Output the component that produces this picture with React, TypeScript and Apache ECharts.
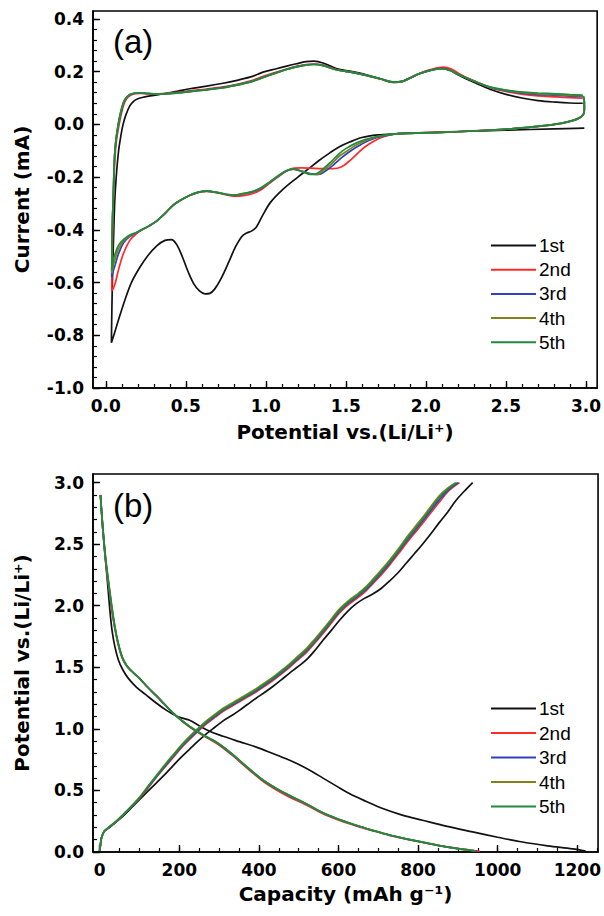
import React, { useEffect, useRef } from 'react';
import * as echarts from 'echarts';

// ---------- tick labels ----------
const cvPotentialTicks = [0, 0.5, 1.0, 1.5, 2.0, 2.5, 3.0];
const cvCurrentTicks = [-1.0, -0.8, -0.6, -0.4, -0.2, 0.0, 0.2, 0.4];
const capacityTicks = [0, 200, 400, 600, 800, 1000, 1200];
const potentialTicks = [0, 0.5, 1.0, 1.5, 2.0, 2.5, 3.0];

const cycleNames = ['1st', '2nd', '3rd', '4th', '5th'];
const cycleColors = ['#111111', '#ff2a2a', '#3040c0', '#80801e', '#1f8a3c'];

// ---------- (a) CV curves: [potential V, current mA] ----------
const cv1 = [
  [2.99, -0.014], [2.8, -0.017], [2.5, -0.022], [2.2, -0.027], [2.0, -0.031], [1.8, -0.036], [1.7, -0.04], [1.6, -0.05],
  [1.52, -0.068], [1.46, -0.085], [1.4, -0.108], [1.33, -0.138], [1.27, -0.167], [1.2, -0.2], [1.1, -0.25], [1.03, -0.295],
  [0.98, -0.345], [0.94, -0.39], [0.91, -0.405], [0.88, -0.412], [0.85, -0.425], [0.81, -0.465], [0.77, -0.52], [0.72, -0.585],
  [0.68, -0.625], [0.65, -0.641], [0.62, -0.643], [0.585, -0.632], [0.55, -0.605], [0.515, -0.56], [0.48, -0.505], [0.445, -0.458],
  [0.41, -0.437], [0.37, -0.44], [0.32, -0.46], [0.26, -0.5], [0.21, -0.545], [0.16, -0.6], [0.12, -0.665], [0.08, -0.74],
  [0.05, -0.8], [0.035, -0.828], [0.038, -0.7], [0.043, -0.55], [0.05, -0.4], [0.056, -0.29], [0.065, -0.2], [0.08, -0.1],
  [0.095, -0.04], [0.108, 0.0], [0.125, 0.035], [0.15, 0.07], [0.175, 0.088], [0.2, 0.097], [0.233, 0.103], [0.3, 0.11],
  [0.358, 0.116], [0.45, 0.126], [0.525, 0.135], [0.63, 0.145], [0.733, 0.156], [0.82, 0.167], [0.9, 0.179], [0.95, 0.19],
  [0.982, 0.198], [1.066, 0.211], [1.13, 0.221], [1.191, 0.23], [1.25, 0.238], [1.3, 0.24], [1.357, 0.233], [1.44, 0.212],
  [1.54, 0.2], [1.628, 0.188], [1.72, 0.172], [1.8, 0.159], [1.85, 0.162], [1.9, 0.175], [1.961, 0.192], [2.03, 0.206],
  [2.1, 0.213], [2.15, 0.205], [2.2, 0.188], [2.253, 0.172], [2.32, 0.154], [2.4, 0.133], [2.5, 0.114], [2.607, 0.099],
  [2.7, 0.09], [2.815, 0.084], [2.9, 0.081], [2.98, 0.08],
];
const cv2 = [
  [2.985, 0.081], [2.99, 0.07], [2.99, 0.052], [2.985, 0.038], [2.96, 0.024], [2.92, 0.014], [2.85, 0.004], [2.71, -0.008],
  [2.55, -0.016], [2.4, -0.022], [2.2, -0.027], [2.05, -0.03], [1.9, -0.033], [1.8, -0.037], [1.74, -0.046], [1.68, -0.062],
  [1.62, -0.085], [1.57, -0.112], [1.52, -0.14], [1.47, -0.162], [1.42, -0.168], [1.35, -0.168], [1.28, -0.166], [1.22, -0.165],
  [1.15, -0.17], [1.09, -0.193], [1.02, -0.225], [0.97, -0.248], [0.92, -0.262], [0.86, -0.27], [0.8, -0.272], [0.75, -0.267],
  [0.7, -0.26], [0.63, -0.254], [0.58, -0.258], [0.525, -0.27], [0.47, -0.286], [0.42, -0.306], [0.37, -0.338], [0.317, -0.367],
  [0.27, -0.386], [0.233, -0.398], [0.19, -0.415], [0.15, -0.44], [0.11, -0.49], [0.08, -0.55], [0.06, -0.6], [0.045, -0.625],
  [0.037, -0.63], [0.04, -0.5], [0.043, -0.4], [0.047, -0.3], [0.052, -0.2], [0.058, -0.12], [0.067, -0.06], [0.082, -0.005],
  [0.097, 0.04], [0.113, 0.075], [0.13, 0.097], [0.155, 0.11], [0.185, 0.116], [0.22, 0.117], [0.26, 0.116], [0.3, 0.116],
  [0.358, 0.117], [0.45, 0.121], [0.525, 0.127], [0.63, 0.134], [0.733, 0.142], [0.82, 0.152], [0.9, 0.164], [0.98, 0.181],
  [1.066, 0.198], [1.13, 0.21], [1.191, 0.22], [1.25, 0.227], [1.3, 0.229], [1.357, 0.225], [1.44, 0.208], [1.54, 0.197],
  [1.628, 0.186], [1.72, 0.171], [1.8, 0.159], [1.85, 0.162], [1.9, 0.176], [1.961, 0.194], [2.03, 0.208], [2.11, 0.217],
  [2.16, 0.21], [2.2, 0.195], [2.253, 0.178], [2.32, 0.16], [2.4, 0.14], [2.5, 0.125], [2.607, 0.114], [2.7, 0.108],
  [2.815, 0.104], [2.9, 0.101], [2.98, 0.099],
];
const cv3 = [
  [2.985, 0.099], [2.99, 0.082], [2.99, 0.057], [2.985, 0.039], [2.96, 0.025], [2.92, 0.015], [2.85, 0.005], [2.71, -0.007],
  [2.55, -0.016], [2.4, -0.022], [2.2, -0.028], [2.05, -0.031], [1.9, -0.034], [1.8, -0.037], [1.72, -0.046], [1.64, -0.062],
  [1.57, -0.085], [1.52, -0.105], [1.47, -0.128], [1.42, -0.155], [1.37, -0.178], [1.33, -0.19], [1.29, -0.188], [1.23, -0.178],
  [1.17, -0.17], [1.12, -0.18], [1.07, -0.2], [1.02, -0.222], [0.97, -0.243], [0.92, -0.256], [0.86, -0.264], [0.8, -0.269],
  [0.75, -0.266], [0.7, -0.259], [0.63, -0.253], [0.58, -0.257], [0.525, -0.269], [0.47, -0.287], [0.42, -0.307], [0.37, -0.338],
  [0.317, -0.367], [0.27, -0.385], [0.233, -0.397], [0.19, -0.412], [0.15, -0.425], [0.11, -0.45], [0.08, -0.49], [0.06, -0.53],
  [0.045, -0.56], [0.037, -0.58], [0.039, -0.47], [0.042, -0.36], [0.046, -0.29], [0.05, -0.2], [0.055, -0.12], [0.064, -0.06],
  [0.079, 0.0], [0.094, 0.044], [0.11, 0.079], [0.127, 0.099], [0.152, 0.112], [0.182, 0.118], [0.215, 0.119], [0.256, 0.117],
  [0.3, 0.116], [0.358, 0.116], [0.45, 0.12], [0.525, 0.125], [0.63, 0.132], [0.733, 0.14], [0.82, 0.15], [0.9, 0.161],
  [0.98, 0.178], [1.066, 0.196], [1.13, 0.209], [1.191, 0.219], [1.25, 0.226], [1.3, 0.228], [1.357, 0.224], [1.44, 0.207],
  [1.54, 0.197], [1.628, 0.186], [1.72, 0.172], [1.8, 0.16], [1.85, 0.163], [1.9, 0.176], [1.961, 0.193], [2.03, 0.206],
  [2.1, 0.212], [2.15, 0.206], [2.2, 0.19], [2.253, 0.176], [2.32, 0.159], [2.4, 0.14], [2.5, 0.127], [2.607, 0.117],
  [2.7, 0.113], [2.815, 0.11], [2.9, 0.107], [2.98, 0.105],
];
const cv4 = [
  [2.985, 0.105], [2.99, 0.086], [2.99, 0.058], [2.985, 0.04], [2.96, 0.025], [2.92, 0.015], [2.85, 0.005], [2.71, -0.007],
  [2.55, -0.016], [2.4, -0.022], [2.2, -0.028], [2.05, -0.031], [1.9, -0.034], [1.8, -0.037], [1.71, -0.045], [1.63, -0.06],
  [1.56, -0.08], [1.51, -0.1], [1.46, -0.12], [1.41, -0.15], [1.36, -0.175], [1.32, -0.19], [1.28, -0.189], [1.23, -0.179],
  [1.17, -0.17], [1.12, -0.179], [1.07, -0.199], [1.02, -0.221], [0.97, -0.241], [0.92, -0.255], [0.86, -0.263], [0.8, -0.268],
  [0.75, -0.265], [0.7, -0.259], [0.63, -0.253], [0.58, -0.257], [0.525, -0.269], [0.47, -0.287], [0.42, -0.307], [0.37, -0.338],
  [0.317, -0.367], [0.27, -0.385], [0.233, -0.397], [0.19, -0.411], [0.15, -0.422], [0.11, -0.443], [0.08, -0.472], [0.06, -0.508],
  [0.045, -0.54], [0.037, -0.565], [0.039, -0.46], [0.042, -0.355], [0.046, -0.29], [0.05, -0.2], [0.055, -0.12], [0.063, -0.06],
  [0.078, 0.0], [0.093, 0.045], [0.109, 0.08], [0.126, 0.1], [0.151, 0.113], [0.181, 0.119], [0.213, 0.12], [0.255, 0.118],
  [0.3, 0.116], [0.358, 0.116], [0.45, 0.119], [0.525, 0.124], [0.63, 0.131], [0.733, 0.139], [0.82, 0.149], [0.9, 0.16],
  [0.98, 0.177], [1.066, 0.195], [1.13, 0.208], [1.191, 0.218], [1.25, 0.225], [1.3, 0.227], [1.357, 0.223], [1.44, 0.207],
  [1.54, 0.197], [1.628, 0.186], [1.72, 0.172], [1.8, 0.16], [1.85, 0.163], [1.9, 0.176], [1.961, 0.193], [2.03, 0.205],
  [2.1, 0.211], [2.15, 0.205], [2.2, 0.19], [2.253, 0.176], [2.32, 0.16], [2.4, 0.141], [2.5, 0.129], [2.607, 0.12],
  [2.7, 0.116], [2.815, 0.113], [2.9, 0.11], [2.98, 0.108],
];
const cv5 = [
  [2.985, 0.108], [2.99, 0.088], [2.99, 0.06], [2.985, 0.04], [2.96, 0.025], [2.92, 0.015], [2.85, 0.005], [2.71, -0.007],
  [2.55, -0.016], [2.4, -0.022], [2.2, -0.028], [2.05, -0.031], [1.9, -0.034], [1.8, -0.037], [1.7, -0.045], [1.62, -0.058],
  [1.55, -0.075], [1.5, -0.092], [1.46, -0.11], [1.41, -0.14], [1.36, -0.168], [1.32, -0.186], [1.28, -0.19], [1.23, -0.18],
  [1.17, -0.17], [1.12, -0.178], [1.07, -0.198], [1.02, -0.22], [0.97, -0.24], [0.92, -0.254], [0.86, -0.262], [0.8, -0.268],
  [0.75, -0.265], [0.7, -0.259], [0.63, -0.253], [0.58, -0.257], [0.525, -0.269], [0.47, -0.287], [0.42, -0.307], [0.37, -0.338],
  [0.317, -0.367], [0.27, -0.385], [0.233, -0.397], [0.19, -0.41], [0.15, -0.42], [0.11, -0.437], [0.08, -0.458], [0.06, -0.488],
  [0.045, -0.52], [0.037, -0.553], [0.039, -0.45], [0.042, -0.35], [0.046, -0.29], [0.05, -0.2], [0.055, -0.12], [0.063, -0.06],
  [0.077, 0.0], [0.092, 0.045], [0.108, 0.08], [0.125, 0.1], [0.15, 0.113], [0.18, 0.119], [0.212, 0.12], [0.254, 0.118],
  [0.3, 0.116], [0.358, 0.116], [0.45, 0.119], [0.525, 0.124], [0.63, 0.131], [0.733, 0.139], [0.82, 0.149], [0.9, 0.16],
  [0.98, 0.177], [1.066, 0.195], [1.13, 0.208], [1.191, 0.218], [1.25, 0.225], [1.3, 0.227], [1.357, 0.223], [1.44, 0.207],
  [1.54, 0.197], [1.628, 0.186], [1.72, 0.172], [1.8, 0.16], [1.85, 0.163], [1.9, 0.176], [1.961, 0.193], [2.03, 0.205],
  [2.1, 0.21], [2.15, 0.205], [2.2, 0.19], [2.253, 0.176], [2.32, 0.16], [2.4, 0.142], [2.5, 0.13], [2.607, 0.122],
  [2.7, 0.119], [2.815, 0.116], [2.9, 0.113], [2.98, 0.111],
];

// ---------- (b) discharge / charge: [capacity mAh/g, potential V] ----------
const discharge1 = [
  [2, 2.9], [4, 2.8], [8, 2.62], [13, 2.43], [18, 2.25], [22, 2.1], [26, 1.95], [31, 1.8], [38, 1.67], [47, 1.56], [58, 1.48],
  [72, 1.41], [92, 1.34], [115, 1.28], [142, 1.21], [168, 1.15], [192, 1.105], [210, 1.085], [226, 1.07], [250, 1.025],
  [276, 0.98], [310, 0.94], [351, 0.896], [395, 0.85], [435, 0.8], [470, 0.755], [494, 0.72], [530, 0.66], [561, 0.6],
  [595, 0.535], [627, 0.475], [670, 0.41], [711, 0.353], [760, 0.3], [811, 0.258], [870, 0.21], [937, 0.163], [1000, 0.12],
  [1062, 0.081], [1125, 0.05], [1188, 0.025], [1221, 0.008],
];
const discharge2 = [
  [2, 2.9], [5, 2.74], [10, 2.53], [16, 2.33], [25, 2.1], [33, 1.91], [42, 1.75], [50, 1.64], [58, 1.565], [68, 1.51],
  [80, 1.47], [100, 1.41], [120, 1.34], [142, 1.27], [163, 1.2], [184, 1.13], [205, 1.07], [226, 1.015], [250, 0.965],
  [268, 0.93], [290, 0.89], [310, 0.845], [335, 0.78], [360, 0.71], [385, 0.64], [410, 0.575], [443, 0.505], [477, 0.445],
  [520, 0.38], [561, 0.31], [603, 0.256], [644, 0.212], [686, 0.172], [728, 0.135], [770, 0.104], [811, 0.078], [853, 0.052],
  [895, 0.031], [930, 0.016], [955, 0.006],
];
const discharge3 = [
  [2, 2.9], [5, 2.75], [10, 2.54], [16, 2.34], [25, 2.11], [33, 1.92], [42, 1.755], [50, 1.645], [58, 1.568], [68, 1.51],
  [80, 1.47], [100, 1.41], [120, 1.34], [142, 1.27], [163, 1.2], [184, 1.13], [205, 1.07], [226, 1.018], [250, 0.968],
  [268, 0.934], [290, 0.895], [310, 0.851], [335, 0.786], [360, 0.716], [385, 0.647], [410, 0.583], [443, 0.515], [477, 0.455],
  [520, 0.388], [561, 0.316], [603, 0.262], [644, 0.216], [686, 0.175], [728, 0.137], [770, 0.106], [811, 0.079], [853, 0.052],
  [895, 0.03], [925, 0.016], [948, 0.007],
];
const discharge4 = [
  [2, 2.9], [5, 2.75], [10, 2.55], [16, 2.35], [25, 2.12], [33, 1.93], [42, 1.76], [50, 1.65], [58, 1.57], [68, 1.51],
  [80, 1.47], [100, 1.41], [120, 1.34], [142, 1.27], [163, 1.2], [184, 1.13], [205, 1.07], [226, 1.02], [250, 0.97],
  [268, 0.936], [290, 0.898], [310, 0.854], [335, 0.789], [360, 0.72], [385, 0.65], [410, 0.585], [443, 0.517], [477, 0.458],
  [520, 0.39], [561, 0.318], [603, 0.263], [644, 0.217], [686, 0.176], [728, 0.138], [770, 0.107], [811, 0.08], [853, 0.052],
  [895, 0.03], [925, 0.017], [945, 0.008],
];
const discharge5 = [
  [2, 2.9], [5, 2.76], [10, 2.56], [16, 2.36], [25, 2.13], [33, 1.94], [42, 1.765], [50, 1.655], [58, 1.575], [68, 1.515],
  [80, 1.47], [100, 1.41], [120, 1.34], [142, 1.27], [163, 1.2], [184, 1.13], [205, 1.07], [226, 1.02], [250, 0.97],
  [268, 0.937], [290, 0.9], [310, 0.855], [335, 0.79], [360, 0.72], [385, 0.65], [410, 0.585], [443, 0.518], [477, 0.46],
  [520, 0.39], [561, 0.318], [603, 0.263], [644, 0.217], [686, 0.176], [728, 0.138], [770, 0.107], [811, 0.08], [853, 0.052],
  [895, 0.03], [925, 0.017], [945, 0.008],
];
const charge1 = [
  [0, 0.01], [2, 0.06], [5, 0.12], [12, 0.17], [25, 0.2], [40, 0.24], [58, 0.29], [80, 0.36], [100, 0.425], [120, 0.49],
  [142, 0.56], [167, 0.64], [184, 0.7], [205, 0.77], [226, 0.835], [247, 0.9], [268, 0.96], [290, 1.015], [310, 1.065],
  [335, 1.115], [351, 1.15], [372, 1.2], [393, 1.249], [414, 1.295], [435, 1.344], [456, 1.398], [477, 1.453], [498, 1.505],
  [519, 1.56], [540, 1.635], [561, 1.72], [582, 1.8], [602, 1.88], [623, 1.955], [644, 2.015], [665, 2.06], [686, 2.095],
  [707, 2.14], [728, 2.2], [750, 2.27], [770, 2.345], [790, 2.42], [811, 2.5], [832, 2.585], [853, 2.675], [874, 2.76],
  [895, 2.855], [916, 2.93], [937, 3.0],
];
const charge2 = [
  [0, 0.01], [2, 0.06], [5, 0.12], [12, 0.17], [25, 0.205], [40, 0.245], [58, 0.3], [84, 0.38], [100, 0.435], [125, 0.535],
  [142, 0.605], [167, 0.7], [184, 0.765], [205, 0.845], [226, 0.915], [247, 0.98], [268, 1.04], [290, 1.095], [310, 1.142],
  [335, 1.19], [351, 1.22], [372, 1.26], [393, 1.3], [414, 1.345], [435, 1.393], [456, 1.445], [477, 1.5], [498, 1.56],
  [519, 1.62], [540, 1.695], [561, 1.775], [582, 1.86], [602, 1.94], [627, 2.015], [644, 2.055], [665, 2.108], [686, 2.178],
  [707, 2.25], [728, 2.33], [750, 2.42], [770, 2.505], [790, 2.585], [811, 2.668], [832, 2.755], [853, 2.84], [876, 2.93],
  [904, 3.0],
];
const charge3 = [
  [0, 0.01], [2, 0.06], [5, 0.12], [12, 0.17], [25, 0.205], [40, 0.245], [58, 0.3], [84, 0.383], [100, 0.438], [125, 0.54],
  [142, 0.61], [167, 0.708], [184, 0.773], [205, 0.853], [226, 0.923], [247, 0.988], [268, 1.048], [290, 1.103], [310, 1.15],
  [335, 1.198], [351, 1.228], [372, 1.268], [393, 1.309], [414, 1.354], [435, 1.402], [456, 1.454], [477, 1.51], [498, 1.57],
  [519, 1.632], [540, 1.707], [561, 1.787], [582, 1.872], [602, 1.952], [627, 2.027], [644, 2.067], [665, 2.12], [686, 2.19],
  [707, 2.264], [728, 2.344], [750, 2.434], [770, 2.522], [790, 2.602], [811, 2.686], [832, 2.774], [853, 2.86], [876, 2.94],
  [901, 3.0],
];
const charge4 = [
  [0, 0.01], [2, 0.06], [5, 0.12], [12, 0.17], [25, 0.205], [40, 0.245], [58, 0.3], [84, 0.388], [100, 0.445], [125, 0.55],
  [142, 0.62], [167, 0.722], [184, 0.788], [205, 0.868], [226, 0.94], [247, 1.005], [268, 1.065], [290, 1.12], [310, 1.167],
  [335, 1.215], [351, 1.245], [372, 1.285], [393, 1.327], [414, 1.372], [435, 1.42], [456, 1.472], [477, 1.528], [498, 1.59],
  [519, 1.652], [540, 1.728], [561, 1.808], [582, 1.893], [602, 1.973], [627, 2.046], [644, 2.087], [665, 2.143], [686, 2.214],
  [707, 2.29], [728, 2.37], [750, 2.46], [770, 2.55], [790, 2.632], [811, 2.717], [832, 2.806], [853, 2.893], [874, 2.955],
  [894, 3.0],
];
const charge5 = [
  [0, 0.01], [2, 0.06], [5, 0.12], [12, 0.17], [25, 0.205], [40, 0.245], [58, 0.3], [84, 0.385], [100, 0.44], [125, 0.545],
  [142, 0.615], [167, 0.715], [184, 0.78], [205, 0.86], [226, 0.93], [247, 0.995], [268, 1.055], [290, 1.11], [310, 1.157],
  [335, 1.205], [351, 1.235], [372, 1.275], [393, 1.317], [414, 1.362], [435, 1.41], [456, 1.462], [477, 1.518], [498, 1.578],
  [519, 1.64], [540, 1.715], [561, 1.795], [582, 1.88], [602, 1.96], [627, 2.035], [644, 2.075], [665, 2.13], [686, 2.2],
  [707, 2.275], [728, 2.355], [750, 2.445], [770, 2.535], [790, 2.615], [811, 2.7], [832, 2.79], [853, 2.878], [874, 2.945],
  [897, 3.0],
];

const cvData = [cv1, cv2, cv3, cv4, cv5];
const dischargeData = [discharge1, discharge2, discharge3, discharge4, discharge5];
const chargeData = [charge1, charge2, charge3, charge4, charge5];

const BOLD_FONT = 'DejaVu Sans';
const REG_FONT = 'Liberation Sans';

function steps(from: number, to: number, step: number): number[] {
  const out: number[] = [];
  for (let k = 0; from + k * step <= to + 1e-9; k++) out.push(Math.round((from + k * step) * 1000) / 1000);
  return out;
}

function majorAxis(gridIndex: number, min: number, max: number, ticks: number[], digits: number, name: string, nameGap: number, isY: boolean) {
  return {
    type: 'value',
    gridIndex,
    min,
    max,
    position: isY ? 'left' : 'bottom',
    name,
    nameLocation: 'middle',
    nameGap,
    nameTextStyle: { fontFamily: BOLD_FONT, fontWeight: 'bold', fontSize: 20, color: '#000' },
    axisLine: { show: true, onZero: false, lineStyle: { color: '#000', width: 1.6 } },
    axisTick: { show: true, inside: true, length: 7, customValues: ticks, lineStyle: { color: '#000', width: 1.4 } },
    axisLabel: {
      show: true,
      customValues: ticks,
      margin: 9,
      formatter: (v: number) => v.toFixed(digits),
      fontFamily: BOLD_FONT,
      fontWeight: 'bold',
      fontSize: 17,
      color: '#000',
    },
    splitLine: { show: false },
  };
}

function minorAxis(gridIndex: number, min: number, max: number, ticks: number[], isY: boolean) {
  return {
    type: 'value',
    gridIndex,
    min,
    max,
    position: isY ? 'left' : 'bottom',
    axisLine: { show: false, onZero: false },
    axisTick: { show: true, inside: true, length: 4, customValues: ticks, lineStyle: { color: '#000', width: 1.2 } },
    axisLabel: { show: false },
    splitLine: { show: false },
  };
}

function legendFor(top: number, gap: number) {
  return {
    data: cycleNames,
    orient: 'vertical',
    left: 486,
    top,
    icon: 'rect',
    itemWidth: 45,
    itemHeight: 2,
    itemGap: gap,
    selectedMode: false,
    textStyle: { fontFamily: REG_FONT, fontSize: 19, color: '#000', lineHeight: 18, padding: [0, 0, 0, -2] },
  };
}

function buildOption() {
  const series: any[] = [];
  const lineCommon = { type: 'line', showSymbol: false, symbol: 'none', smooth: 0.35, silent: true };
  cycleNames.forEach((name, i) => {
    series.push({ ...lineCommon, name, xAxisIndex: 0, yAxisIndex: 0, data: cvData[i], lineStyle: { color: cycleColors[i], width: 1.7 }, itemStyle: { color: cycleColors[i] }, z: 2 + i });
  });
  cycleNames.forEach((name, i) => {
    series.push({ ...lineCommon, name, xAxisIndex: 2, yAxisIndex: 2, data: dischargeData[i], lineStyle: { color: cycleColors[i], width: 1.7 }, itemStyle: { color: cycleColors[i] }, z: 2 + i });
    series.push({ ...lineCommon, name, xAxisIndex: 2, yAxisIndex: 2, data: chargeData[i], lineStyle: { color: cycleColors[i], width: 1.7 }, itemStyle: { color: cycleColors[i] }, z: 2 + i });
  });

  return {
    animation: false,
    backgroundColor: '#fff',
    textStyle: { fontFamily: BOLD_FONT },
    grid: [
      { left: 93, top: 11, width: 505, height: 377, show: true, borderColor: '#000', borderWidth: 1.6, backgroundColor: 'transparent', containLabel: false },
      { left: 93, top: 474, width: 506, height: 378, show: true, borderColor: '#000', borderWidth: 1.6, backgroundColor: 'transparent', containLabel: false },
    ],
    xAxis: [
      majorAxis(0, -0.08, 3.07, cvPotentialTicks, 1, 'Potential vs.(Li/Li\u207A)', 34, false),
      minorAxis(0, -0.08, 3.07, steps(0, 3.0, 0.1), false),
      majorAxis(1, -16.8, 1252, capacityTicks, 0, 'Capacity (mAh g\u207B\u00B9)', 32, false),
      minorAxis(1, -16.8, 1252, steps(0, 1250, 50), false),
    ],
    yAxis: [
      majorAxis(0, -1.0, 0.43, cvCurrentTicks, 1, 'Current (mA)', 61, true),
      minorAxis(0, -1.0, 0.43, steps(-1.0, 0.4, 0.04), true),
      majorAxis(1, 0, 3.07, potentialTicks, 1, 'Potential vs.(Li/Li\u207A)', 61, true),
      minorAxis(1, 0, 3.07, steps(0, 3.0, 0.1), true),
    ],
    legend: [legendFor(231, 5.2), legendFor(694, 5.5)],
    graphic: [
      { type: 'text', left: 113, top: 25, style: { text: '(a)', fontFamily: REG_FONT, fontSize: 33, fill: '#000' } },
      { type: 'text', left: 113, top: 489, style: { text: '(b)', fontFamily: REG_FONT, fontSize: 33, fill: '#000' } },
    ],
    series,
  };
}

export default function App() {
  const ref = useRef<HTMLDivElement>(null);
  useEffect(() => {
    if (!ref.current) return;
    const chart = echarts.init(ref.current, null, { renderer: 'svg' });
    chart.setOption(buildOption() as any);
    return () => chart.dispose();
  }, []);
  return <div ref={ref} style={{ position: 'absolute', left: 0, top: 0, width: 604, height: 916, background: '#fff' }} />;
}
